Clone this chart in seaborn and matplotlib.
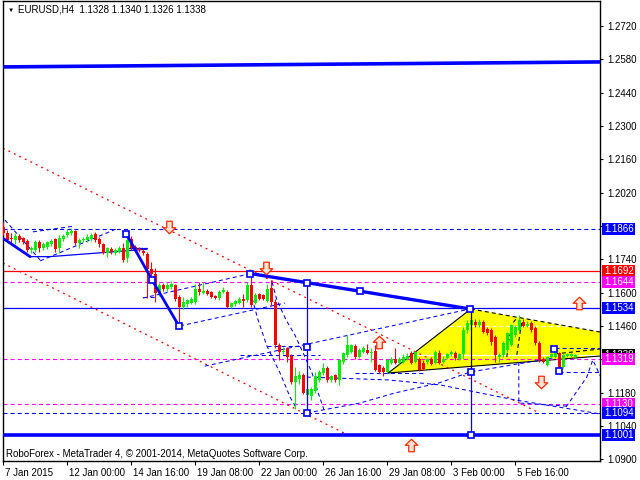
import numpy as np
import pandas as pd
import matplotlib
matplotlib.use("Agg")
import matplotlib.pyplot as plt
import seaborn as sns
from matplotlib.patches import Polygon, Rectangle
from matplotlib.path import Path
from matplotlib import transforms

# ---------------- EURUSD H4 candles (bar index 0 = 7 Jan 2015 08:00) ----------------
opens = [1.1877, 1.1849, 1.1830, 1.1821, 1.1839, 1.1828, 1.1817, 1.1778, 1.1779, 1.1811,
         1.1786, 1.1793, 1.1803, 1.1825, 1.1786, 1.1825, 1.1842, 1.1849, 1.1859, 1.1807,
         1.1821, 1.1821, 1.1825, 1.1845, 1.1825, 1.1803, 1.1765, 1.1782, 1.1765, 1.1772,
         1.1789, 1.1744, 1.1825, 1.1793, 1.1782, 1.1775, 1.1761, 1.1700, 1.1680, 1.1597,
         1.1632, 1.1614, 1.1625, 1.1630, 1.1580, 1.1540, 1.1550, 1.1557, 1.1560, 1.1616,
         1.1600, 1.1607, 1.1602, 1.1584, 1.1578, 1.1602, 1.1603, 1.1541, 1.1550, 1.1555,
         1.1575, 1.1569, 1.1632, 1.1557, 1.1593, 1.1588, 1.1565, 1.1620, 1.1561, 1.1380,
         1.1352, 1.1366, 1.1334, 1.1223, 1.1235, 1.1254, 1.1170, 1.1165, 1.1185, 1.1233,
         1.1264, 1.1285, 1.1232, 1.1252, 1.1233, 1.1310, 1.1338, 1.1350, 1.1376, 1.1331,
         1.1350, 1.1359, 1.1345, 1.1355, 1.1296, 1.1285, 1.1265, 1.1305, 1.1322, 1.1305,
         1.1310, 1.1320, 1.1347, 1.1310, 1.1322, 1.1305, 1.1310, 1.1320, 1.1305, 1.1345,
         1.1310, 1.1325, 1.1340, 1.1345, 1.1320, 1.1342, 1.1443, 1.1464, 1.1478, 1.1464,
         1.1478, 1.1446, 1.1443, 1.1415, 1.1330, 1.1338, 1.1359, 1.1380, 1.1422, 1.1443,
         1.1475, 1.1460, 1.1471, 1.1450, 1.1387, 1.1322, 1.1296, 1.1331, 1.1331, 1.1345,
         1.1289, 1.1335, 1.1335, 1.1328]
highs = [1.1895, 1.1863, 1.1850, 1.1849, 1.1845, 1.1835, 1.1825, 1.1795, 1.1821, 1.1820,
         1.1812, 1.1818, 1.1825, 1.1830, 1.1842, 1.1848, 1.1866, 1.1870, 1.1863, 1.1828,
         1.1835, 1.1845, 1.1852, 1.1856, 1.1832, 1.1810, 1.1793, 1.1790, 1.1786, 1.1796,
         1.1807, 1.1839, 1.1839, 1.1800, 1.1790, 1.1782, 1.1772, 1.1730, 1.1702, 1.1640,
         1.1640, 1.1641, 1.1650, 1.1635, 1.1590, 1.1582, 1.1575, 1.1582, 1.1635, 1.1644,
         1.1644, 1.1615, 1.1608, 1.1590, 1.1611, 1.1624, 1.1611, 1.1560, 1.1570, 1.1582,
         1.1593, 1.1643, 1.1686, 1.1600, 1.1600, 1.1595, 1.1635, 1.1653, 1.1575, 1.1387,
         1.1370, 1.1370, 1.1340, 1.1289, 1.1270, 1.1262, 1.1200, 1.1205, 1.1268, 1.1275,
         1.1302, 1.1290, 1.1255, 1.1258, 1.1320, 1.1350, 1.1422, 1.1385, 1.1385, 1.1365,
         1.1375, 1.1385, 1.1365, 1.1380, 1.1300, 1.1290, 1.1320, 1.1330, 1.1365, 1.1330,
         1.1340, 1.1345, 1.1355, 1.1355, 1.1330, 1.1315, 1.1325, 1.1330, 1.1360, 1.1360,
         1.1335, 1.1345, 1.1360, 1.1355, 1.1345, 1.1455, 1.1485, 1.1534, 1.1490, 1.1490,
         1.1485, 1.1455, 1.1450, 1.1420, 1.1345, 1.1395, 1.1435, 1.1470, 1.1465, 1.1506,
         1.1490, 1.1480, 1.1480, 1.1460, 1.1395, 1.1330, 1.1335, 1.1345, 1.1360, 1.1350,
         1.1345, 1.1345, 1.1345, 1.1340]
lows = [1.1842, 1.1814, 1.1800, 1.1803, 1.1814, 1.1805, 1.1772, 1.1768, 1.1769, 1.1772,
        1.1778, 1.1785, 1.1796, 1.1769, 1.1765, 1.1818, 1.1835, 1.1842, 1.1800, 1.1786,
        1.1812, 1.1812, 1.1818, 1.1814, 1.1793, 1.1761, 1.1751, 1.1760, 1.1758, 1.1765,
        1.1730, 1.1730, 1.1779, 1.1770, 1.1772, 1.1758, 1.1578, 1.1653, 1.1562, 1.1585,
        1.1605, 1.1608, 1.1615, 1.1565, 1.1464, 1.1530, 1.1540, 1.1550, 1.1552, 1.1590,
        1.1595, 1.1590, 1.1578, 1.1572, 1.1570, 1.1598, 1.1536, 1.1535, 1.1545, 1.1550,
        1.1541, 1.1560, 1.1541, 1.1550, 1.1570, 1.1570, 1.1560, 1.1545, 1.1366, 1.1317,
        1.1340, 1.1310, 1.1215, 1.1110, 1.1215, 1.1175, 1.1094, 1.1150, 1.1180, 1.1225,
        1.1255, 1.1225, 1.1225, 1.1225, 1.1213, 1.1300, 1.1330, 1.1345, 1.1320, 1.1325,
        1.1345, 1.1340, 1.1310, 1.1270, 1.1262, 1.1250, 1.1260, 1.1300, 1.1300, 1.1300,
        1.1305, 1.1315, 1.1300, 1.1305, 1.1270, 1.1275, 1.1300, 1.1295, 1.1300, 1.1300,
        1.1305, 1.1320, 1.1335, 1.1315, 1.1315, 1.1320, 1.1430, 1.1440, 1.1455, 1.1455,
        1.1430, 1.1420, 1.1380, 1.1310, 1.1310, 1.1330, 1.1350, 1.1375, 1.1415, 1.1440,
        1.1455, 1.1455, 1.1435, 1.1380, 1.1310, 1.1305, 1.1290, 1.1325, 1.1325, 1.1268,
        1.1285, 1.1328, 1.1328, 1.1326]
closes = [1.1849, 1.1821, 1.1825, 1.1839, 1.1821, 1.1814, 1.1779, 1.1786, 1.1811, 1.1786,
          1.1804, 1.1811, 1.1817, 1.1782, 1.1830, 1.1839, 1.1856, 1.1859, 1.1807, 1.1821,
          1.1826, 1.1835, 1.1842, 1.1821, 1.1803, 1.1765, 1.1786, 1.1769, 1.1779, 1.1789,
          1.1737, 1.1821, 1.1786, 1.1779, 1.1779, 1.1765, 1.1700, 1.1680, 1.1597, 1.1632,
          1.1614, 1.1632, 1.1637, 1.1575, 1.1540, 1.1561, 1.1569, 1.1575, 1.1616, 1.1603,
          1.1607, 1.1596, 1.1583, 1.1578, 1.1602, 1.1611, 1.1541, 1.1555, 1.1565, 1.1575,
          1.1565, 1.1632, 1.1548, 1.1590, 1.1575, 1.1575, 1.1614, 1.1561, 1.1380, 1.1352,
          1.1355, 1.1331, 1.1223, 1.1251, 1.1254, 1.1180, 1.1195, 1.1195, 1.1250, 1.1268,
          1.1285, 1.1233, 1.1248, 1.1232, 1.1317, 1.1345, 1.1380, 1.1380, 1.1328, 1.1359,
          1.1367, 1.1345, 1.1350, 1.1275, 1.1268, 1.1268, 1.1317, 1.1322, 1.1305, 1.1322,
          1.1330, 1.1335, 1.1305, 1.1350, 1.1275, 1.1280, 1.1320, 1.1300, 1.1350, 1.1305,
          1.1322, 1.1340, 1.1352, 1.1325, 1.1340, 1.1443, 1.1471, 1.1485, 1.1464, 1.1478,
          1.1436, 1.1431, 1.1394, 1.1338, 1.1338, 1.1387, 1.1429, 1.1464, 1.1457, 1.1485,
          1.1460, 1.1470, 1.1443, 1.1387, 1.1317, 1.1310, 1.1331, 1.1340, 1.1352, 1.1282,
          1.1338, 1.1340, 1.1340, 1.1338]

date_ticks = [0, 16, 32, 48, 64, 80, 96, 112, 128]
date_labels = ["7 Jan 2015", "12 Jan 00:00", "14 Jan 16:00", "19 Jan 08:00", "22 Jan 00:00",
               "26 Jan 16:00", "29 Jan 08:00", "3 Feb 00:00", "5 Feb 16:00"]
price_ticks = [1.0900, 1.1040, 1.1180, 1.1320, 1.1460, 1.1600, 1.1740, 1.1880,
               1.2020, 1.2160, 1.2300, 1.2440, 1.2580, 1.2720]
# scale values that sit under a price tag carry no label
covered_ticks = [1.1320, 1.1880]

# Horizontal levels: price, colour, style
BLUE, RED, MAGENTA = "#0000ff", "#ff0000", "#ff00ff"
level_prices = [1.1866, 1.1692, 1.1644, 1.1534, 1.1319, 1.1130, 1.1094, 1.1001]
level_colors = [BLUE, RED, MAGENTA, BLUE, MAGENTA, MAGENTA, BLUE, BLUE]
level_styles = ["dash", "solid", "dash", "solid", "dash", "dash", "dash", "thick"]
last_price = 1.1338

# Analysis objects in (bar, price) coordinates
top_trend = ([-0.1, 149.3], [1.2548, 1.2569])
red_channel = [([-0.1, 134.2], [1.2207, 1.1093]),
               ([-0.1, 85.4], [1.1724, 1.1008])]
falling_wave = ([61.7, 116.8], [1.1680, 1.1531])
left_thick = [([-0.1, 6.7], [1.1828, 1.1751]),
              ([30.8, 37.2, 43.9], [1.1845, 1.1653, 1.1460])]
left_thin = [([6.7, 11.7, 35.9], [1.1751, 1.1751, 1.1782]),
             ([31.2, 35.9], [1.1786, 1.1786])]
blue_dashed = [
    ([0.4, 9.2], [1.1905, 1.1737]),
    ([7.4, 17.2], [1.1855, 1.1878]),
    ([9.2, 28.2], [1.1733, 1.1867]),
    ([34.9, 61.4], [1.1577, 1.1678]),
    ([34.9, 38.4], [1.1581, 1.1581]),
    ([44.2, 70.4], [1.1460, 1.1556]),
    ([59.2, 79.2], [1.1338, 1.1338]),
    ([65.9, 76.7], [1.1375, 1.1375]),
    ([50.4, 76.2, 116.7], [1.1291, 1.1384, 1.1531]),
    ([75.9, 89.2, 97.9, 108.9, 116.7, 137.4], [1.1094, 1.1136, 1.1178, 1.1220, 1.1266, 1.1325]),
    ([75.9, 96.2, 109.2, 127.9, 149.3], [1.1245, 1.1233, 1.1212, 1.1149, 1.1090]),
    ([87.9, 105.4], [1.1262, 1.1262]),
    ([137.9, 149.3], [1.1365, 1.1365]),
    ([138.9, 149.3], [1.1266, 1.1266]),
    ([128.9, 128.9, 140.9], [1.1308, 1.1136, 1.1123]),
    ([140.7, 145.9, 147.4, 149.3], [1.1119, 1.1245, 1.1317, 1.1249]),
    ([62.2, 63.7, 65.9, 69.2, 71.7, 73.4], [1.1577, 1.1485, 1.1376, 1.1262, 1.1161, 1.1111]),
    ([67.2, 68.4, 70.7, 72.9, 75.2, 77.2, 78.9, 80.2],
     [1.1644, 1.1569, 1.1485, 1.1422, 1.1338, 1.1262, 1.1170, 1.1107]),
]
black_dashed = [
    ([125.9, 126.4, 127.4, 128.4], [1.1329, 1.1401, 1.1472, 1.1493]),
    ([128.4, 129.2, 129.7], [1.1338, 1.1430, 1.1485]),
    ([137.9, 149.3], [1.1342, 1.1363]),
    ([116.9, 149.3], [1.1531, 1.1434]),
]
triangle_bars = [96.25, 116.9, 149.3, 149.3]
triangle_prices = [1.1262, 1.1531, 1.1434, 1.13335]
squares_bar = [61.7, 75.9, 89.3, 116.8, 30.8, 37.2, 43.9, 75.9, 75.9, 116.9, 116.9, 137.75, 138.9]
squares_price = [1.1680, 1.1642, 1.1605, 1.1531, 1.1845, 1.1653, 1.1460, 1.1371, 1.1094,
                 1.1266, 1.1001, 1.1361, 1.1269]
up_arrows = ([93.9, 143.9, 101.9], [1.1394, 1.1557, 1.0960])
down_arrows = ([41.4, 65.6, 134.5], [1.1877, 1.1703, 1.1225])

# ---------------- figure ----------------
sns.set_theme(style="white")
plt.rcParams["font.family"] = ["Liberation Sans", "DejaVu Sans"]
plt.rcParams["lines.scale_dashes"] = False
plt.rcParams["axes.edgecolor"] = "black"

fig = plt.figure(figsize=(6.4, 4.8), dpi=100)
fig.patch.set_facecolor("white")
ax = fig.add_axes([3 / 640, 19 / 480, 597 / 640, 460 / 480])
ax.set_facecolor("white")

DASH = (0, (2.9, 2.2))
DOT = (0, (1.4, 3.0))


def draw(xs, ys, color, lw, ls="-", z=3):
    seg = pd.DataFrame({"bar": xs, "price": ys})
    sns.lineplot(data=seg, x="bar", y="price", sort=False, estimator=None, color=color,
                 lw=lw, linestyle=ls, ax=ax, legend=False, zorder=z)


# yellow triangle and its edges
ax.add_patch(Polygon(list(zip(triangle_bars, triangle_prices)), closed=True,
                     facecolor="#ffff00", edgecolor="none", zorder=1))
ax.axhline(1.1460, color="white", lw=0.9, ls=DASH, zorder=1.5)
ax.axhline(last_price, color="white", lw=0.9, zorder=1.5)
draw(triangle_bars[:2], triangle_prices[:2], "black", 0.8, z=2)
draw([triangle_bars[0], triangle_bars[3]], [triangle_prices[0], triangle_prices[3]], "black", 0.8, z=2)
for xs, ys in black_dashed:
    draw(xs, ys, "black", 0.8, DASH, z=2)

# horizontal levels
for p, c, s in zip(level_prices, level_colors, level_styles):
    if s == "thick":
        ax.axhline(p, color=c, lw=2.6, zorder=3)
    elif s == "dash":
        ax.axhline(p, color=c, lw=0.8, ls=DASH, zorder=2)
    else:
        ax.axhline(p, color=c, lw=0.9, zorder=2)

# channel and wave lines
for xs, ys in red_channel:
    draw(xs, ys, RED, 0.9, DOT, z=2)
for xs, ys in blue_dashed:
    draw(xs, ys, BLUE, 0.75, DASH, z=2)
for xs, ys in left_thin:
    draw(xs, ys, BLUE, 0.9, z=2)
draw(*top_trend, BLUE, 2.6, z=3)
draw(*falling_wave, BLUE, 2.4, z=6)
for xs, ys in left_thick:
    draw(xs, ys, BLUE, 2.0, z=6)
draw([75.9, 75.9], [1.1642, 1.1094], BLUE, 0.9, z=6)
draw([116.9, 116.9], [1.1531, 1.1266], "black", 0.9, z=6)
draw([116.9, 116.9], [1.1266, 1.1001], BLUE, 0.9, z=6)

# candles
df = pd.DataFrame({"o": opens, "h": highs, "l": lows, "c": closes})
df["bar"] = np.arange(len(df))
colors = np.where(df["c"] >= df["o"], "#00ee00", RED)
ax.vlines(df["bar"], df["l"], df["h"], colors=colors, lw=0.8, zorder=4)
body = (df["c"] - df["o"]).abs().clip(lower=0.0004)
ax.bar(df["bar"], body, bottom=np.minimum(df["o"], df["c"]), width=0.7,
       color=colors, linewidth=0, zorder=5)

# square anchors
ax.plot(squares_bar, squares_price, ls="", marker="s", ms=4.6, mfc="white",
        mec=BLUE, mew=1.2, zorder=7)

# hollow arrows
up_path = Path([(0, 0.5), (0.5, 0.02), (0.22, 0.02), (0.22, -0.5), (-0.22, -0.5),
                (-0.22, 0.02), (-0.5, 0.02), (0, 0.5)],
               [Path.MOVETO] + [Path.LINETO] * 6 + [Path.CLOSEPOLY])
down_path = Path(up_path.vertices * np.array([1, -1]), up_path.codes)
ax.plot(*up_arrows, ls="", marker=up_path, ms=9, mfc="#ffe2d6", mec="#ff2a00", mew=0.9, zorder=8)
ax.plot(*down_arrows, ls="", marker=down_path, ms=9, mfc="#ffe2d6", mec="#ff2a00", mew=0.9, zorder=8)

# axes
ax.set_xlim(-0.075, 149.2)
ax.set_ylim(1.08923, 1.28250)
ax.set_xlabel("")
ax.set_ylabel("")
for sp in ax.spines.values():
    sp.set_color("black")
    sp.set_linewidth(1.0)
ax.yaxis.tick_right()
ax.set_yticks(price_ticks)
ax.set_yticklabels(["" if v in covered_ticks else f"{v:.4f}" for v in price_ticks])
ax.set_xticks(date_ticks)
ax.set_xticklabels(date_labels)
ax.tick_params(axis="y", right=True, left=False, labelright=True, labelleft=False,
               direction="out", length=2.5, width=0.8, pad=3, labelsize=7, colors="black")
ax.tick_params(axis="x", bottom=True, direction="out", length=3, width=0.8, pad=2,
               labelsize=7, colors="black")
shift = transforms.ScaledTranslation(2 / 100, 0, fig.dpi_scale_trans)
for lbl in ax.get_xticklabels():
    lbl.set_ha("left")
    lbl.set_transform(lbl.get_transform() + shift)
ax.grid(False)

# price tags on the right scale
tag = transforms.blended_transform_factory(fig.transFigure, ax.transData)
tag_h = 12 / 2380
tags = [(last_price, "black")] + list(zip(level_prices, level_colors))
for k, (p, c) in enumerate(tags):
    fig.add_artist(Rectangle((601.5 / 640, p - tag_h / 2), 33 / 640, tag_h, transform=tag,
                             facecolor=c, edgecolor="none", zorder=5 + k * 0.01))
    fig.text(604.5 / 640, p, f"{p:.4f}", transform=tag, color="white", fontsize=7,
             va="center", ha="left", zorder=5.005 + k * 0.01)

# texts
ax.text(5 / 597, (461 - 10) / 460, "\u25BC", transform=ax.transAxes, fontsize=4.5,
        va="center", ha="left", color="black", zorder=9)
ax.text(15 / 597, (461 - 10) / 460, "EURUSD,H4  1.1328 1.1340 1.1326 1.1338",
        transform=ax.transAxes, fontsize=7, va="center", ha="left", color="black", zorder=9)
ax.text(3 / 597, (461 - 454) / 460,
        "RoboForex - MetaTrader 4, \u00A9 2001-2014, MetaQuotes Software Corp.",
        transform=ax.transAxes, fontsize=7, va="center", ha="left", color="black", zorder=9)

fig.savefig("out.png", dpi=100, facecolor="white")
